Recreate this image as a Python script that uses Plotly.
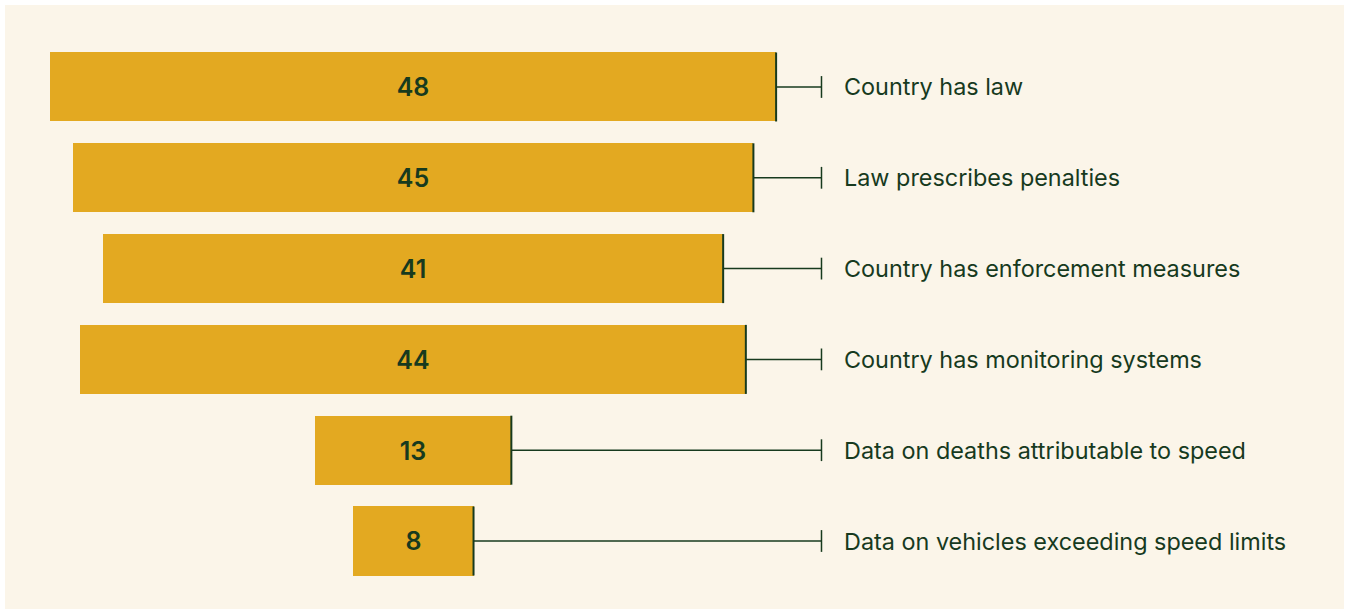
import plotly.graph_objects as go

# Speed-law indicators: number of countries
labels = [
    "Country has law",
    "Law prescribes penalties",
    "Country has enforcement measures",
    "Country has monitoring systems",
    "Data on deaths attributable to speed",
    "Data on vehicles exceeding speed limits",
]
counts = [48, 45, 41, 44, 13, 8]

BAR = "#E3A921"
INK = "#173A1E"
BG = "#FBF5E9"

LINE_END = 27.0    # where connectors stop (data units)
LABEL_X = 28.37    # where labels start
BAR_W = 0.76

fig = go.Figure()

# centred bars
fig.add_trace(
    go.Bar(
        y=labels,
        x=counts,
        base=[-c / 2 for c in counts],
        orientation="h",
        width=BAR_W,
        marker=dict(color=BAR, line=dict(width=0)),
        text=[str(c) for c in counts],
        textposition="inside",
        insidetextanchor="middle",
        textfont=dict(family="Inter", size=25, color=INK, weight=600),
        hoverinfo="skip",
        showlegend=False,
    )
)

# connectors from right edge of each bar to the label
shapes = []
for idx, c in enumerate(counts):
    shapes.append(dict(type="line", xref="x", yref="y",
                       x0=c / 2, x1=LINE_END, y0=idx, y1=idx,
                       line=dict(color=INK, width=1.5)))
    shapes.append(dict(type="line", xref="x", yref="y",
                       x0=c / 2, x1=c / 2, y0=idx - BAR_W / 2, y1=idx + BAR_W / 2,
                       line=dict(color=INK, width=2)))
    shapes.append(dict(type="line", xref="x", yref="y",
                       x0=LINE_END, x1=LINE_END, y0=idx - 0.12, y1=idx + 0.12,
                       line=dict(color=INK, width=1.5)))

# cream panel inside the white page
shapes.append(dict(type="rect", xref="paper", yref="paper", layer="below",
                   x0=5 / 1351, x1=1344 / 1351, y0=1 - 609 / 614, y1=1 - 5 / 614,
                   fillcolor=BG, line=dict(width=0)))

annotations = [
    dict(x=LABEL_X, y=i, xref="x", yref="y", text=lab, showarrow=False,
         xanchor="left", yanchor="middle",
         font=dict(family="Inter", size=23.4, color=INK))
    for i, lab in enumerate(labels)
]

fig.update_layout(
    width=1351,
    height=614,
    margin=dict(l=0, r=0, t=0, b=0),
    paper_bgcolor="white",
    plot_bgcolor="rgba(0,0,0,0)",
    shapes=shapes,
    annotations=annotations,
    xaxis=dict(range=[-27.3, 62.0], visible=False, fixedrange=True),
    yaxis=dict(type="category", categoryorder="array", categoryarray=labels,
               range=[5.804, -0.958], visible=False, fixedrange=True),
    bargap=0,
)

fig.write_html("out.html", include_plotlyjs=True,
               config={"displayModeBar": False},
               post_script="document.body.style.margin='0';")
